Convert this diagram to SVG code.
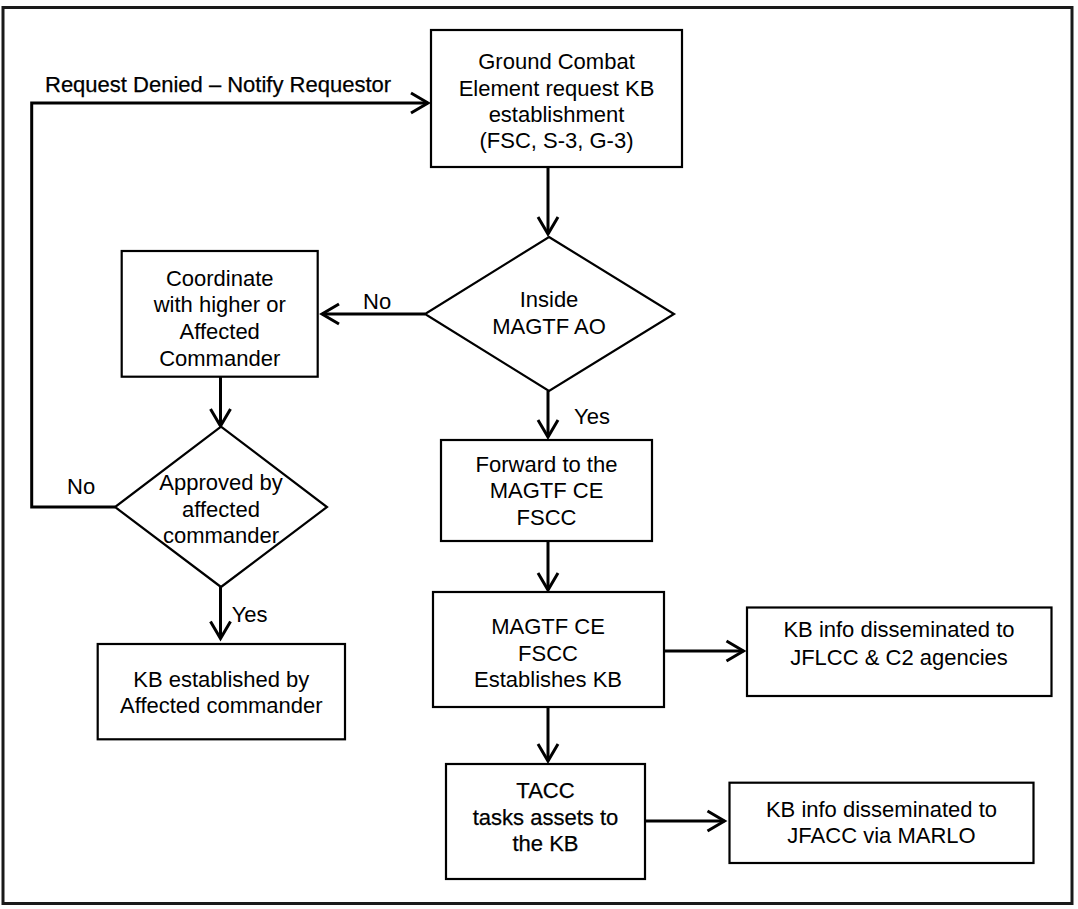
<svg xmlns="http://www.w3.org/2000/svg" width="1078" height="909" viewBox="0 0 1078 909">
  <style>
    .box { fill: #ffffff; stroke: #000000; stroke-width: 2.2; }
    .frame { fill: none; stroke: #1a1a1a; stroke-width: 3; }
    .link { fill: none; stroke: #000000; stroke-width: 3; marker-end: url(#chevron); }
    text { font-family: "Liberation Sans", Arial, sans-serif; font-size: 22px; fill: #000000; }
    .c { text-anchor: middle; }
    .heavy { stroke: #000000; stroke-width: 0.25; }
  </style>
  <defs>
    <marker id="chevron" markerUnits="userSpaceOnUse" viewBox="-22 -14 26 28" refX="0" refY="0" markerWidth="26" markerHeight="28" orient="auto" overflow="visible">
      <path d="M -17 -10 L 0 0 L -17 10" fill="none" stroke="#000000" stroke-width="3" stroke-linejoin="miter"/>
    </marker>
  </defs>

  <rect class="frame" x="3" y="7.5" width="1069" height="896"/>

  <!-- connectors and their labels -->
  <g id="connectors">
    <line class="link" x1="548" y1="167" x2="548" y2="234"/>
    <line class="link" x1="425" y1="314" x2="322" y2="314"/>
    <line class="link" x1="548" y1="391" x2="548" y2="437"/>
    <line class="link" x1="548" y1="541" x2="548" y2="590"/>
    <line class="link" x1="664" y1="651" x2="743.5" y2="651"/>
    <line class="link" x1="548" y1="707" x2="548" y2="761"/>
    <line class="link" x1="645" y1="821" x2="724.5" y2="821"/>
    <line class="link" x1="220.5" y1="377" x2="220.5" y2="426"/>
    <line class="link" x1="220.5" y1="587" x2="220.5" y2="638.5"/>
    <path class="link" d="M 115 507 L 31.7 507 L 31.7 103 L 428 103"/>
    <text x="45" y="91.7" class="heavy">Request Denied – Notify Requestor</text>
    <text x="363" y="309">No</text>
    <text x="574" y="424">Yes</text>
    <text x="67" y="493.5">No</text>
    <text x="231.7" y="622.3">Yes</text>
  </g>

  <g id="gce-request">
    <rect class="box" x="431" y="30" width="251" height="137"/>
    <text class="c" x="556.5" y="69.3">Ground Combat</text>
    <text class="c" x="556.5" y="95.7">Element request KB</text>
    <text class="c" x="556.5" y="122">establishment</text>
    <text class="c" x="556.5" y="148">(FSC, S-3, G-3)</text>
  </g>

  <g id="inside-ao">
    <polygon class="box" points="549,237 674,314 549,391 425,314"/>
    <text class="c" x="549" y="307">Inside</text>
    <text class="c" x="549" y="334">MAGTF AO</text>
  </g>

  <g id="coordinate">
    <rect class="box" x="121.7" y="251" width="196" height="125.7"/>
    <text class="c" x="219.7" y="285.7">Coordinate</text>
    <text class="c" x="219.7" y="312.3">with higher or</text>
    <text class="c" x="219.7" y="339">Affected</text>
    <text class="c" x="219.7" y="365.7">Commander</text>
  </g>

  <g id="approved">
    <polygon class="box" points="221,426.7 327,507 221,587 115,507"/>
    <text class="c" x="221" y="490">Approved by</text>
    <text class="c" x="221" y="517.3">affected</text>
    <text class="c" x="221" y="543.3">commander</text>
  </g>

  <g id="kb-affected">
    <rect class="box" x="97.7" y="644" width="247.3" height="95.3"/>
    <text class="c" x="221.3" y="686.7">KB established by</text>
    <text class="c" x="221.3" y="713.3">Affected commander</text>
  </g>

  <g id="forward-fscc">
    <rect class="box" x="441" y="440" width="211" height="101"/>
    <text class="c" x="546.5" y="472.3">Forward to the</text>
    <text class="c" x="546.5" y="498.3">MAGTF CE</text>
    <text class="c" x="546.5" y="524.5">FSCC</text>
  </g>

  <g id="fscc-establishes">
    <rect class="box" x="433" y="592" width="231" height="115" stroke-width="2.6"/>
    <text class="c" x="548" y="634">MAGTF CE</text>
    <text class="c" x="548" y="661">FSCC</text>
    <text class="c" x="548" y="687">Establishes KB</text>
  </g>

  <g id="jflcc-info">
    <rect class="box" x="747" y="607.5" width="304.5" height="88.5"/>
    <text class="c" x="899" y="636.7">KB info disseminated to</text>
    <text class="c" x="899" y="665">JFLCC &amp; C2 agencies</text>
  </g>

  <g id="tacc">
    <rect class="box" x="446" y="764" width="199" height="115" stroke-width="2.6"/>
    <text class="c heavy" x="545.5" y="798.3">TACC</text>
    <text class="c heavy" x="545.5" y="825">tasks assets to</text>
    <text class="c heavy" x="545.5" y="851">the KB</text>
  </g>

  <g id="jfacc-info">
    <rect class="box" x="729.5" y="782.7" width="304" height="80.3"/>
    <text class="c" x="881.5" y="816.7">KB info disseminated to</text>
    <text class="c" x="881.5" y="843.3">JFACC via MARLO</text>
  </g>
</svg>
